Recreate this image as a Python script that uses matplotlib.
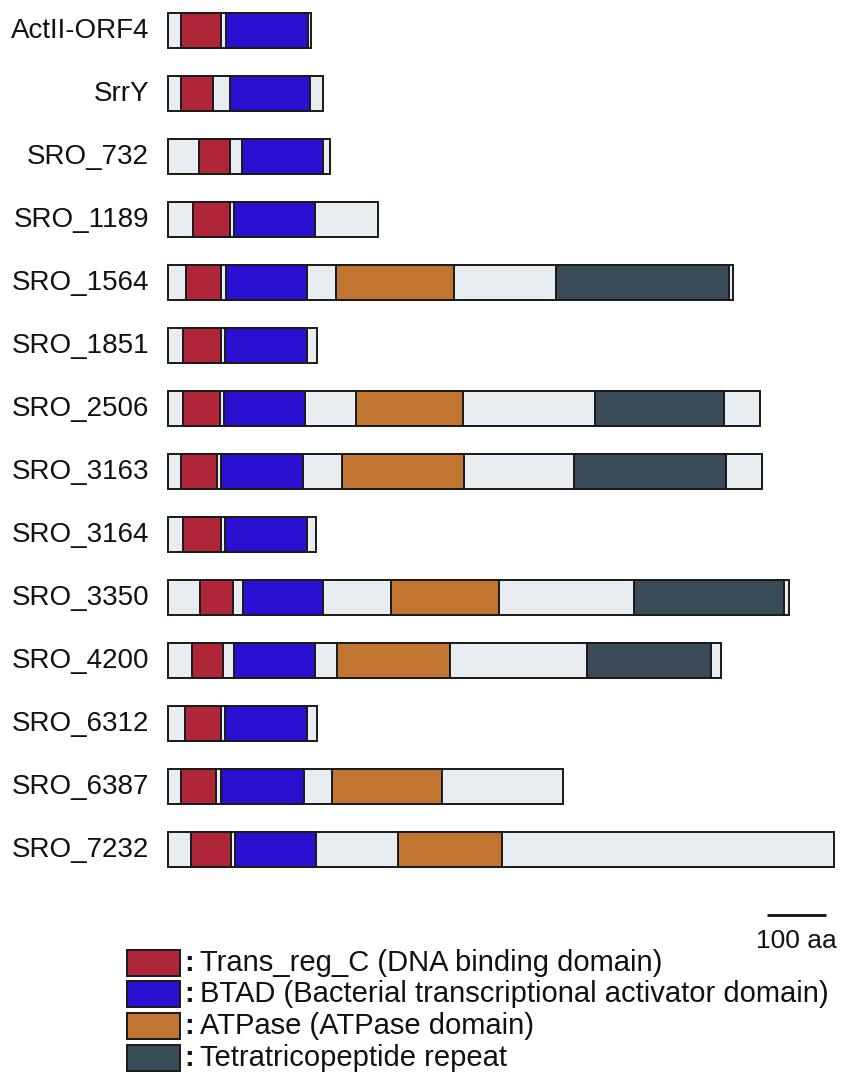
import matplotlib
matplotlib.use("Agg")
import matplotlib.pyplot as plt
from matplotlib.patches import Rectangle

plt.rcParams['font.family'] = ['Liberation Sans', 'DejaVu Sans']

# Protein names and total lengths (aa)
proteins = ["ActII-ORF4", "SrrY", "SRO_732", "SRO_1189", "SRO_1564", "SRO_1851",
            "SRO_2506", "SRO_3163", "SRO_3164", "SRO_3350", "SRO_4200", "SRO_6312",
            "SRO_6387", "SRO_7232"]
lengths = [242, 263, 275, 356, 958, 253, 1003, 1007, 251, 1053, 937, 253, 669, 1129]

# Domain boundaries (start, end) in aa; None where the domain is absent
trans_reg_c = [(22, 90), (22, 76), (53, 105), (42, 105), (31, 90), (25, 90),
               (25, 88), (22, 83), (25, 90), (54, 110), (41, 93), (29, 90),
               (22, 81), (39, 107)]
btad = [(98, 237), (105, 241), (125, 263), (112, 249), (98, 236), (97, 236),
        (95, 232), (90, 229), (97, 236), (127, 263), (112, 249), (97, 236),
        (90, 231), (114, 251)]
atpase = [None, None, None, None, (285, 485), None, (319, 500), (295, 502),
          None, (378, 561), (286, 478), None, (278, 464), (390, 566)]
tpr = [None, None, None, None, (658, 951), None, (724, 942), (688, 946),
       None, (790, 1044), (710, 920), None, None, None]

domain_labels = ["Trans_reg_C (DNA binding domain)",
                 "BTAD (Bacterial transcriptional activator domain)",
                 "ATPase (ATPase domain)",
                 "Tetratricopeptide repeat"]

scale_aa = 100

BACKBONE = "#E8EDF1"
COLORS = ["#AE2638", "#2A10D0", "#C27530", "#394B56"]
EDGE = "#1a1a1a"
TEXT = "#111111"

W, H = 845, 1081
fig = plt.figure(figsize=(W / 100, H / 100), dpi=100)
ax = fig.add_axes([0, 0, 1, 1])

px_per_aa = 0.59
x0_px = 168
row0_px, row_step_px = 31, 63
ax.set_xlim(-x0_px / px_per_aa, (W - x0_px) / px_per_aa)
ax.set_ylim((H - row0_px) / row_step_px, -row0_px / row_step_px)
ax.axis("off")


def xa(px):
    return (px - x0_px) / px_per_aa


def yr(px):
    return (px - row0_px) / row_step_px


bar_h = 35 / row_step_px
lw = 1.4

for i, name in enumerate(proteins):
    y = i
    ax.add_patch(Rectangle((0, y - bar_h / 2), lengths[i], bar_h,
                           facecolor=BACKBONE, edgecolor=EDGE, lw=lw, zorder=2))
    for dom, col in zip([trans_reg_c, btad, atpase, tpr], COLORS):
        seg = dom[i]
        if seg is None:
            continue
        s, e = seg
        ax.add_patch(Rectangle((s, y - bar_h / 2), e - s, bar_h,
                               facecolor=col, edgecolor=EDGE, lw=lw, zorder=3))
    ax.text(xa(149), y, name, ha="right", va="center", fontsize=20, color=TEXT)

# Scale bar
sx_end = xa(826)
ax.plot([sx_end - scale_aa, sx_end], [yr(915)] * 2,
        color=TEXT, lw=2, solid_capstyle="butt")
ax.text(sx_end - scale_aa / 2, yr(941), f"{scale_aa} aa",
        ha="center", va="center", fontsize=19, color=TEXT)

# Legend
leg_rows_px = [963, 994, 1026, 1058]
for lab, col, ypx in zip(domain_labels, COLORS, leg_rows_px):
    yy = yr(ypx)
    hh = 26 / row_step_px
    ax.add_patch(Rectangle((xa(127), yy - hh / 2), 53 / px_per_aa, hh,
                           facecolor=col, edgecolor=EDGE, lw=lw, zorder=3))
    ax.text(xa(184), yy, ":", ha="left", va="center", fontsize=21,
            fontweight="bold", color=TEXT)
    ax.text(xa(200), yy, lab, ha="left", va="center", fontsize=21, color=TEXT)

fig.savefig("out.png", dpi=100)
